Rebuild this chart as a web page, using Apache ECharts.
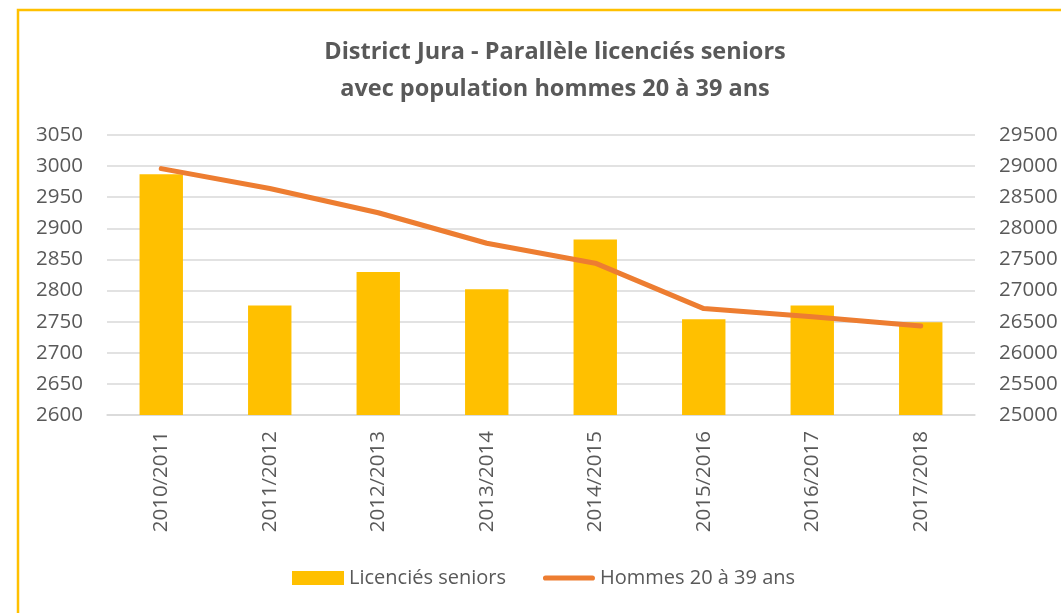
<!DOCTYPE html>
<html>
<head>
<meta charset="utf-8">
<script src="https://cdn.jsdelivr.net/npm/echarts@6/dist/echarts.min.js"></script>
<style>
    html, body { margin: 0; padding: 0; background: #fff; }
    #chart { width: 1061px; height: 613px; }
</style>
</head>
<body>
<div id="chart"></div>
<script>
var saisons = ["2010/2011", "2011/2012", "2012/2013", "2013/2014", "2014/2015", "2015/2016", "2016/2017", "2017/2018"]
var licencies_seniors = [2987, 2776, 2830, 2802, 2882, 2754, 2776, 2749]
var hommes_20_39 = [28960, 28640, 28250, 27760, 27440, 26710, 26580, 26430]

var chart_dom = document.getElementById("chart")
var myChart = echarts.init(chart_dom)
var option

var txt = "#595959"
var font = "Open Sans"

// plain numbers, no thousands separator
function plain(v) {
    return String(v)
}

option = {
    animation: false,
    title: {
        text: "District Jura - Parallèle licenciés seniors\navec population hommes 20 à 39 ans",
        left: 550,
        textAlign: "center",
        top: 29,
        textStyle: {
            color: txt,
            fontFamily: font,
            fontSize: 23.5,
            fontWeight: "bold",
            lineHeight: 37
        }
    },
    graphic: [
        {
            type: "rect",
            shape: { x: 18, y: 10, width: 1100, height: 700 },
            style: { fill: "none", stroke: "#FFC000", lineWidth: 2.5 },
            silent: true
        }
    ],
    legend: {
        data: [
            { name: "Licenciés seniors", icon: "rect" },
            { name: "Hommes 20 à 39 ans", icon: "path://M0.5,0 L9.5,0 A0.5,0.5 0 0 1 9.5,1 L0.5,1 A0.5,0.5 0 0 1 0.5,0 Z" }
        ],
        left: 292,
        top: 568,
        padding: 0,
        itemWidth: 52,
        itemHeight: 14,
        itemGap: 37,
        textStyle: {
            color: txt,
            fontFamily: font,
            fontSize: 20
        }
    },
    grid: {
        left: 107,
        right: 86,
        top: 135,
        bottom: 198
    },
    xAxis: [
        {
            type: "category",
            data: saisons,
            axisTick: { show: false },
            axisLine: { lineStyle: { color: "#D9D9D9", width: 1.5 } },
            axisLabel: {
                rotate: 90,
                margin: 16,
                color: txt,
                fontFamily: font,
                fontSize: 20.5
            }
        }
    ],
    yAxis: [
        {
            type: "value",
            min: 2600,
            max: 3050,
            interval: 50,
            axisLine: { show: false },
            axisTick: { show: false },
            splitLine: { lineStyle: { color: "#D9D9D9", width: 1.5 } },
            axisLabel: {
                margin: 24,
                color: txt,
                fontFamily: font,
                fontSize: 20.5,
                formatter: plain
            }
        },
        {
            type: "value",
            min: 25000,
            max: 29500,
            interval: 500,
            axisLine: { show: false },
            axisTick: { show: false },
            splitLine: { show: false },
            axisLabel: {
                margin: 24,
                color: txt,
                fontFamily: font,
                fontSize: 20.5,
                formatter: plain
            }
        }
    ],
    series: [
        {
            name: "Licenciés seniors",
            type: "bar",
            barWidth: "40%",
            data: licencies_seniors,
            itemStyle: { color: "#FFC000" }
        },
        {
            name: "Hommes 20 à 39 ans",
            type: "line",
            yAxisIndex: 1,
            data: hommes_20_39,
            symbol: "none",
            itemStyle: { color: "#ED7D31" },
            lineStyle: { color: "#ED7D31", width: 5, cap: "round", join: "round" }
        }
    ]
}

myChart.setOption(option)
</script>
</body>
</html>
